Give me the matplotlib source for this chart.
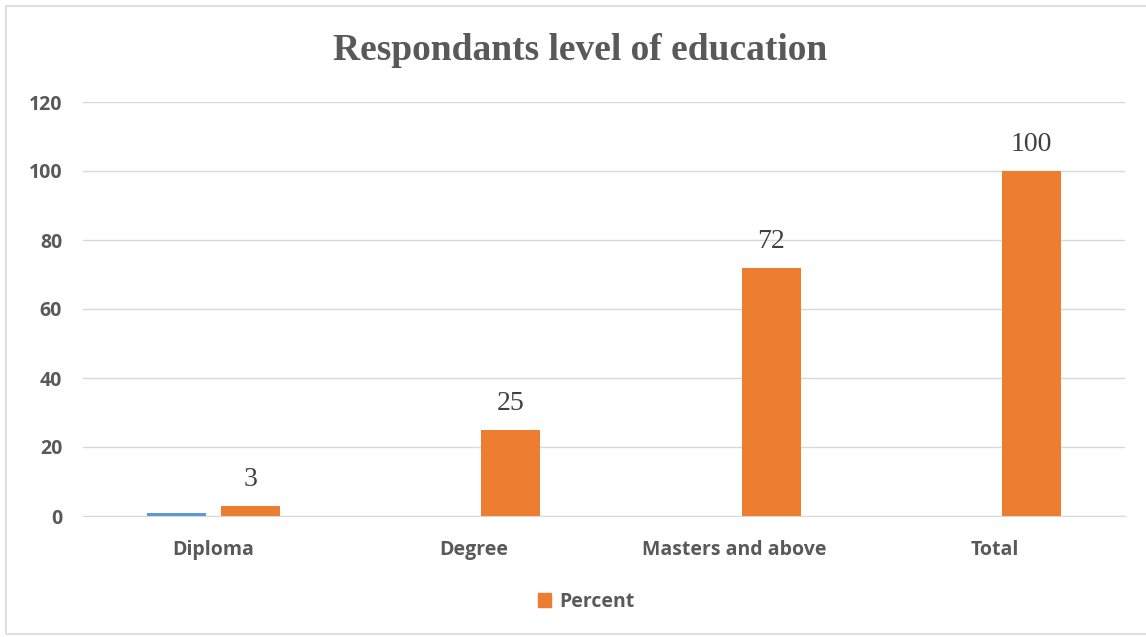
import matplotlib.pyplot as plt
import numpy as np
from matplotlib.patches import Rectangle, Patch

categories = ["Diploma", "Degree", "Masters and above", "Total"]
frequency = [1, 0, 0, 0]          # small blue series, only visible at Diploma
percent = [3, 25, 72, 100]
y_ticks = [0, 20, 40, 60, 80, 100, 120]

orange = "#ED7D31"
blue = "#5B9BD5"
grey_text = "#595959"
label_font = {"family": "Open Sans", "weight": "bold", "size": 14}

fig = plt.figure(figsize=(11.46, 6.37), dpi=100)
ax = fig.add_axes([83 / 1146, 1 - 516 / 637, 1042 / 1146, 414 / 637])

x = np.arange(len(categories))
w = 0.227
ax.bar(x - 0.142, frequency, w, color=blue, zorder=3)
bars = ax.bar(x + 0.142, percent, w, color=orange, zorder=3, label="Percent")

for b, v in zip(bars, percent):
    ax.text(b.get_x() + b.get_width() / 2, v + 4, str(v), ha="center", va="bottom",
            fontsize=20, family="Liberation Serif", color="#404040")

ax.set_xlim(-0.5, len(categories) - 0.5)
ax.set_ylim(0, 120)
ax.set_yticks(y_ticks)
ax.set_xticks(x)
ax.set_xticklabels(categories)
ax.grid(axis="y", color="#D9D9D9", linewidth=1, zorder=0)
ax.tick_params(length=0, labelcolor=grey_text)
ax.tick_params(axis="y", pad=15)
ax.tick_params(axis="x", pad=17)
for lab in ax.get_xticklabels() + ax.get_yticklabels():
    lab.set_fontproperties(label_font)
for s in ["top", "right", "left"]:
    ax.spines[s].set_visible(False)
ax.spines["bottom"].set_color("#D9D9D9")

fig.text(580 / 1146, 1 - 50 / 637, "Respondants level of education", ha="center", va="center",
         fontsize=27, fontweight="bold", family="Liberation Serif", color=grey_text)

leg = fig.legend(handles=[Patch(color=orange, label="Percent")], loc="center",
                 bbox_to_anchor=(586 / 1146, 1 - 602 / 637), frameon=False,
                 handlelength=0.7, handleheight=0.7, handletextpad=0.4,
                 prop=label_font)
for t in leg.get_texts():
    t.set_color(grey_text)

fig.patches.append(Rectangle((6 / 1146, 3 / 637), 1.2, 1 - 9 / 637, transform=fig.transFigure,
                             fill=False, edgecolor="#D9D9D9", linewidth=1.2))

fig.savefig("out.png", dpi=100)
